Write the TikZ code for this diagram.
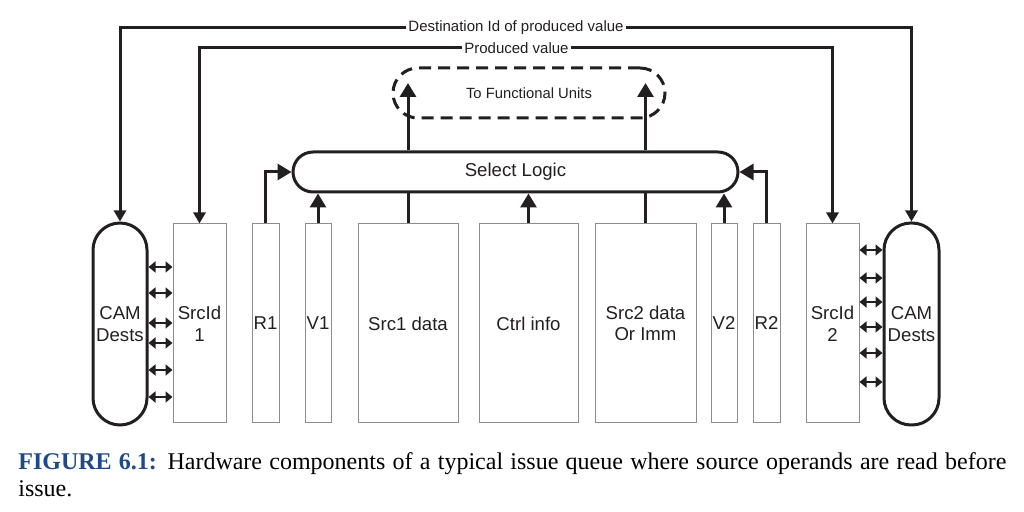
\documentclass[tikz,border=0pt]{standalone}
\usepackage{fontspec}
\setmainfont{Liberation Serif}
\setsansfont{Liberation Sans}
\usetikzlibrary{arrows.meta}

\definecolor{tinta}{RGB}{35,31,32}
\definecolor{borde}{RGB}{140,140,140}
\definecolor{azulfig}{RGB}{31,73,135}

\tikzset{
	campo/.style={draw=borde, line width=0.5pt, minimum height=99.5pt, inner sep=0pt,
		align=center, text=tinta, font=\sffamily\fontsize{9.3}{10.8}\selectfont},
	cam/.style={draw=tinta, line width=1.5pt, rounded corners=13.5pt, minimum height=101pt,
		inner sep=0pt, align=center, text=tinta, font=\sffamily\fontsize{9.3}{10.8}\selectfont},
	flecha/.style={draw=tinta, line width=1.5pt, -{Triangle[length=7pt,width=8pt]}},
	flechita/.style={draw=tinta, line width=1.5pt, -{Triangle[length=5.5pt,width=6pt]}},
	linea/.style={draw=tinta, line width=1.5pt},
	doble/.style={draw=tinta, line width=1.2pt, {Triangle[length=3.5pt,width=5.5pt]}-{Triangle[length=3.5pt,width=5.5pt]}},
	etiqueta/.style={inner sep=1pt, text=tinta, font=\sffamily\fontsize{7.5}{9}\selectfont}
}

\begin{document}
\begin{tikzpicture}[x=0.5pt, y=-0.5pt]
\useasboundingbox (0,0) rectangle (1024,512);

% Campos de la entrada
	\node[cam, minimum width=27pt] (CamA) at (120,324) {CAM\\Dests};
	\node[cam, minimum width=27.5pt] (CamB) at (911.5,324) {CAM\\Dests};

	\foreach \n/\x/\w/\t in {IdA/199.5/26.5/{SrcId\\1}, R1/265.5/13.5/R1, V1/318/13/V1,
		SrcA/408/50/{Src1 data}, Ctrl/528.5/49.5/{Ctrl info}, SrcB/645.5/50.5/{Src2 data\\Or Imm},
		V2/724/13/V2, R2/766.5/13.5/R2, IdB/832.5/26.5/{SrcId\\2}}
		\node[campo, minimum width=\w pt] (\n) at (\x,323.5) {\t};

% Logica de seleccion
	\node[draw=tinta, line width=1.5pt, rounded corners=10pt, minimum width=222.5pt, minimum height=20pt,
		inner sep=0pt, text=tinta, font=\sffamily\fontsize{9.3}{11}\selectfont] (Sel) at (515.5,172) {Select Logic};

	\node[draw=tinta, line width=1.5pt, dash pattern=on 6pt off 3.5pt, rounded corners=12.5pt,
		minimum width=136pt, minimum height=25pt, inner sep=0pt, text=tinta,
		font=\sffamily\fontsize{7.4}{9}\selectfont] (FU) at (529,93) {To Functional Units};

	\coordinate (FUa) at (408,83);
	\coordinate (FUb) at (645.5,83);
	\draw[flecha] (Sel.north -| SrcA.north) -- (FUa);
	\draw[flecha] (Sel.north -| SrcB.north) -- (FUb);

	\draw[flecha] (R1.north) |- (Sel.west);
	\draw[flecha] (R2.north) |- (Sel.east);
	\draw[flecha] (V1.north) -- (V1.north |- Sel.south);
	\draw[flecha] (V2.north) -- (V2.north |- Sel.south);
	\draw[flecha] (Ctrl.north) -- (Ctrl.north |- Sel.south);
	\draw[linea] (SrcA.north) -- (SrcA.north |- Sel.south);
	\draw[linea] (SrcB.north) -- (SrcB.north |- Sel.south);

% Buses de resultado
	\node[etiqueta] (Dest) at (516,28) {Destination Id of produced value};
	\node[etiqueta] (Valor) at (516.5,48) {Produced value};

	\draw[flechita] (Dest.west) -| (CamA.north);
	\draw[flechita] (Dest.east) -| (CamB.north);
	\draw[flechita] (Valor.west) -| (IdA.north);
	\draw[flechita] (Valor.east) -| (IdB.north);

% Comparadores
	\foreach \y in {267, 293, 323, 343, 370, 397}
		\draw[doble] (CamA.east |- 0,\y) -- (IdA.west |- 0,\y);

	\foreach \y in {250, 278, 302, 327, 353, 382}
		\draw[doble] (IdB.east |- 0,\y) -- (CamB.west |- 0,\y);

% Pie de figura
	\node[anchor=base west, inner sep=0pt, text width=494pt, align=justify,
		font=\fontsize{12}{13.5}\selectfont] (Pie) at (18,470)
		{{\color{azulfig}\bfseries FIGURE 6.1:} Hardware components of a typical issue queue where source operands are read before\linebreak issue.};
\end{tikzpicture}
\end{document}
